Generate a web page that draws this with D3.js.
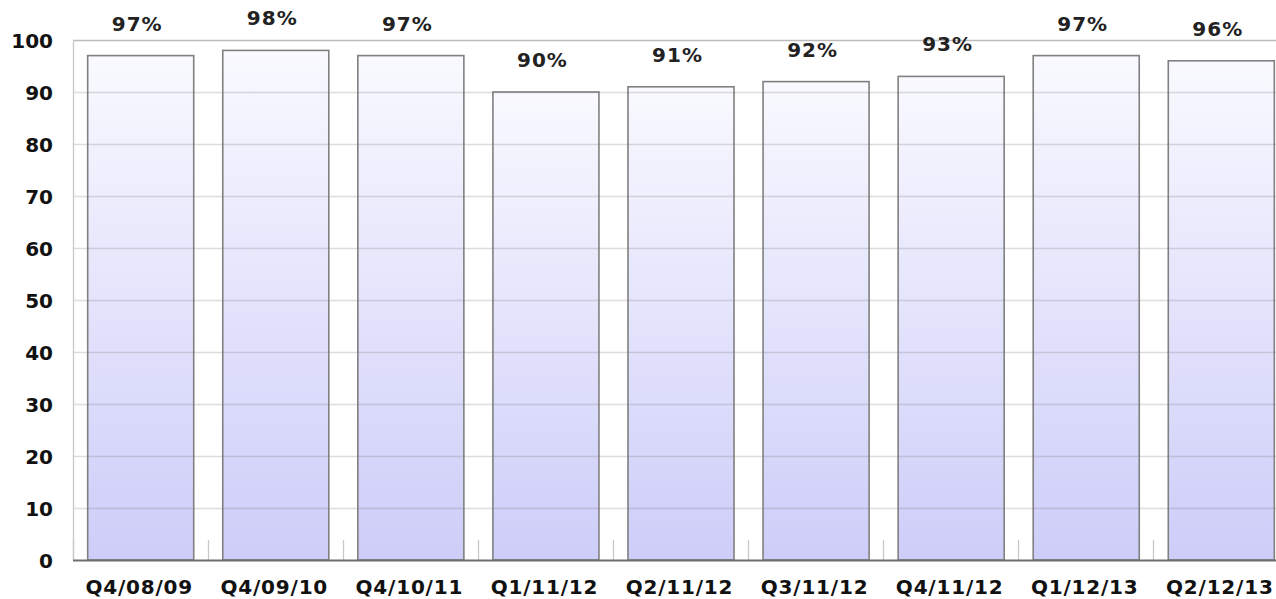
<!DOCTYPE html>
<html><head><meta charset="utf-8">
<script src="https://cdn.jsdelivr.net/npm/d3@7"></script>
<style>body{margin:0;background:#fff;}svg{display:block;}</style>
</head><body>
<svg id="c" width="1276" height="599"></svg>
<script>
const categories = ["Q4/08/09","Q4/09/10","Q4/10/11","Q1/11/12","Q2/11/12","Q3/11/12","Q4/11/12","Q1/12/13","Q2/12/13"];
const values = [97,98,97,90,91,92,93,97,96];
const yTicks = [0,10,20,30,40,50,60,70,80,90,100];

const svg = d3.select("#c");
const m = {left:73, top:40, bottom:560};
const W = 1215;
const x = d3.scaleBand().domain(categories).range([m.left, m.left+W]).paddingInner(0.215).paddingOuter(0.105);
const bandStep = W/categories.length;
const y = d3.scaleLinear().domain([0,100]).range([m.bottom, m.top]);

const defs = svg.append("defs");
const g = defs.append("linearGradient").attr("id","bg").attr("x1",0).attr("y1",0).attr("x2",0).attr("y2",1);
g.append("stop").attr("offset","0%").attr("stop-color","#f9f9ff");
g.append("stop").attr("offset","100%").attr("stop-color","#cdcdf9");

const font = "'DejaVu Sans', Verdana, sans-serif";

// bars
svg.append("g").selectAll("rect").data(values).join("rect")
  .attr("x",(d,i)=>x(categories[i])+0.5)
  .attr("y",d=>y(d))
  .attr("width",x.bandwidth())
  .attr("height",d=>m.bottom-y(d))
  .attr("fill","url(#bg)")
  .attr("stroke","#808080").attr("stroke-width",1.6);

// gridlines
const grid = svg.append("g");
grid.selectAll("line").data(yTicks.filter(t=>t>0)).join("line")
  .attr("x1",m.left).attr("x2",m.left+W)
  .attr("y1",d=>Math.round(y(d))+0.5).attr("y2",d=>Math.round(y(d))+0.5)
  .attr("stroke",d=>d===100?"#bbbbbb":"rgba(120,120,120,0.25)").attr("stroke-width",1.3);

// left axis line
svg.append("line").attr("x1",m.left+0.5).attr("x2",m.left+0.5).attr("y1",m.top).attr("y2",m.bottom)
  .attr("stroke","#c8c8c8").attr("stroke-width",1.3);
// tick marks at band boundaries
svg.append("g").selectAll("line").data(d3.range(categories.length+1)).join("line")
  .attr("x1",i=>m.left+i*bandStep+0.5).attr("x2",i=>m.left+i*bandStep+0.5)
  .attr("y1",m.bottom-20).attr("y2",m.bottom)
  .attr("stroke","#c8c8c8").attr("stroke-width",1.3);
// bottom axis
svg.append("line").attr("x1",m.left).attr("x2",m.left+W).attr("y1",m.bottom+0.5).attr("y2",m.bottom+0.5)
  .attr("stroke","#6e6e6e").attr("stroke-width",2);

// y labels
const yAxis = d3.axisLeft(y).tickValues(yTicks).tickSize(0).tickPadding(20);
const ya = svg.append("g").attr("transform",`translate(${m.left},0)`).call(yAxis);
ya.select(".domain").remove();
ya.selectAll("text").attr("font-family",font).attr("font-weight","bold").attr("font-size","20px")
  .attr("dy","0.38em").attr("fill","#111");

// x labels
const xAxis = d3.axisBottom(x).tickSize(0);
const xa = svg.append("g").attr("transform",`translate(-1,${m.bottom})`).call(xAxis);
xa.select(".domain").remove();
xa.selectAll("text").attr("font-family",font).attr("font-weight","bold").attr("font-size","20px")
  .attr("letter-spacing","0.8px").attr("y",34).attr("dy",0).attr("fill","#111");

// value labels
svg.append("g").selectAll("text").data(values).join("text")
  .attr("x",(d,i)=>x(categories[i])+x.bandwidth()/2-3)
  .attr("y",d=>y(d)-25)
  .attr("text-anchor","middle")
  .attr("font-family",font).attr("font-weight","bold").attr("font-size","20px")
  .attr("letter-spacing","1px").attr("fill","#222")
  .text(d=>d+"%");
</script>
</body></html>
